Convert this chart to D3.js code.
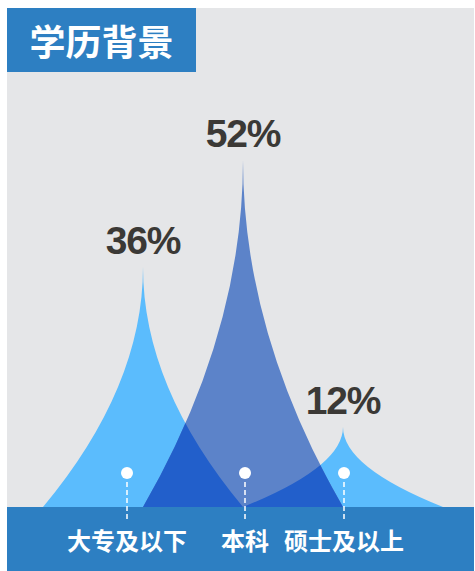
<!DOCTYPE html>
<html>
<head>
<meta charset="utf-8">
<script src="https://cdn.jsdelivr.net/npm/d3@7/dist/d3.min.js"></script>
<style>
  html, body { margin: 0; padding: 0; background: #ffffff; }
  svg { display: block; }
</style>
</head>
<body>
<svg id="chart" width="475" height="571"></svg>
<script>
// Education background: share of staff by highest degree
const title = '学历背景';
const categories = ['大专及以下', '本科', '硕士及以上'];
const values = [36, 52, 12];
const valueLabels = ['36%', '52%', '12%'];
const yTicks = [0, 60];

const W = 475, H = 571;
const panel = { x: 7, y: 8, w: 467, h: 563 };
const baseY = 507;              // top of the footer band, where the peaks stand
const labelNudge = [-16, 2, 1]; // horizontal offset of the category captions

const colors = {
  panel: '#e5e6e8',
  band: '#2d7fc2',
  light: '#5bbcfd',
  main: '#5c83c9',
  overlap: '#225fcb',
  value: '#3b3936',
  white: '#ffffff'
};

const svg = d3.select('#chart');

const x = d3.scaleBand().domain(categories).range([93, 393]).padding(0);
const y = d3.scaleLinear().domain(yTicks).range([baseY, 107]);

// Concave "peak" shape: quadratic sides whose half-width shrinks with the square
// of the distance to the tip.
function peak(cat, v) {
  const cx = x(cat) + x.bandwidth() / 2;
  const half = x.step();
  const top = y(v), bot = y(0);
  const mid = (top + bot) / 2;
  const p = d3.path();
  p.moveTo(cx - half, bot);
  p.quadraticCurveTo(cx, mid, cx, top);
  p.quadraticCurveTo(cx, mid, cx + half, bot);
  p.closePath();
  return p.toString();
}

// background panel
svg.append('rect')
  .attr('x', panel.x).attr('y', panel.y)
  .attr('width', panel.w).attr('height', panel.h)
  .attr('fill', colors.panel);

const data = categories.map((c, i) => ({ cat: c, v: values[i], label: valueLabels[i], i }));
const maxV = d3.max(values);
const minor = data.filter(d => d.v !== maxV);
const major = data.filter(d => d.v === maxV);

// clip made from the lighter peaks, used to darken where peaks overlap
const defs = svg.append('defs');
const clip = defs.append('clipPath').attr('id', 'minorClip');
clip.selectAll('path').data(minor).join('path').attr('d', d => peak(d.cat, d.v));

svg.append('g').selectAll('path').data(minor).join('path')
  .attr('d', d => peak(d.cat, d.v))
  .attr('fill', colors.light);

svg.append('g').selectAll('path').data(major).join('path')
  .attr('d', d => peak(d.cat, d.v))
  .attr('fill', colors.main);

svg.append('g').attr('clip-path', 'url(#minorClip)')
  .selectAll('path').data(major).join('path')
  .attr('d', d => peak(d.cat, d.v))
  .attr('fill', colors.overlap);

// value labels above each tip
svg.append('g').selectAll('text').data(data).join('text')
  .attr('x', d => x(d.cat) + x.bandwidth() / 2)
  .attr('y', d => y(d.v) - 13)
  .attr('text-anchor', 'middle')
  .attr('font-family', '"Liberation Sans", Arial, sans-serif')
  .attr('font-weight', 'bold')
  .attr('font-size', 39)
  .attr('letter-spacing', -1.2)
  .attr('fill', colors.value)
  .text(d => d.label);

// footer band
svg.append('rect')
  .attr('x', panel.x).attr('y', baseY)
  .attr('width', panel.w).attr('height', H - baseY)
  .attr('fill', colors.band);

// markers: dot + dashed stem + caption
const lx = d => x(d.cat) + x.bandwidth() / 2 + labelNudge[d.i];
const marks = svg.append('g');
marks.selectAll('line').data(data).join('line')
  .attr('x1', lx).attr('x2', lx)
  .attr('y1', 482).attr('y2', 519)
  .attr('stroke', colors.white)
  .attr('stroke-width', 1.5)
  .attr('stroke-dasharray', '5,3');
marks.selectAll('circle').data(data).join('circle')
  .attr('cx', lx).attr('cy', 473).attr('r', 6)
  .attr('fill', colors.white);
marks.selectAll('text').data(data).join('text')
  .attr('x', lx).attr('y', 539)
  .attr('text-anchor', 'middle')
  .attr('dominant-baseline', 'central')
  .attr('font-family', '"Noto Sans CJK SC", sans-serif')
  .attr('font-weight', 'bold')
  .attr('font-size', 24)
  .attr('fill', colors.white)
  .text(d => d.cat);

// title tab
svg.append('rect')
  .attr('x', panel.x).attr('y', panel.y)
  .attr('width', 189).attr('height', 64)
  .attr('fill', colors.band);
svg.append('text')
  .attr('x', panel.x + 94.5).attr('y', 40)
  .attr('text-anchor', 'middle')
  .attr('dominant-baseline', 'central')
  .attr('font-family', '"Noto Sans CJK SC", sans-serif')
  .attr('font-weight', 'bold')
  .attr('font-size', 36)
  .attr('fill', colors.white)
  .text(title);
</script>
</body>
</html>
